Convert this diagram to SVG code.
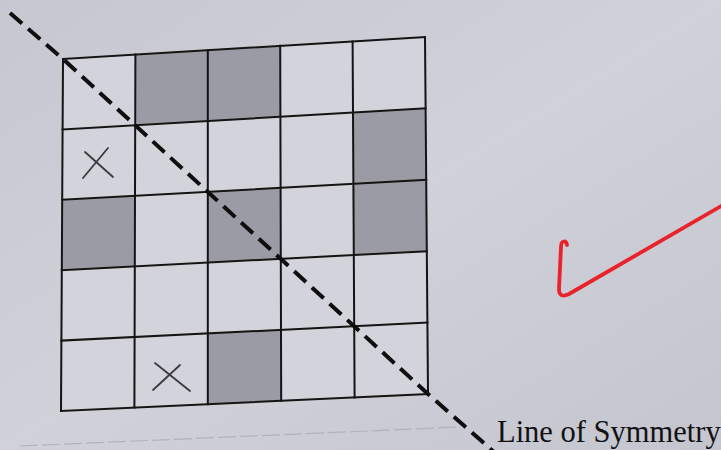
<svg xmlns="http://www.w3.org/2000/svg" width="721" height="450" viewBox="0 0 721 450">
<defs>
<linearGradient id="bg" x1="0" y1="0" x2="1" y2="1">
<stop offset="0" stop-color="#c7c7d1"/>
<stop offset="0.5" stop-color="#d1d1da"/>
<stop offset="1" stop-color="#c5c5cf"/>
</linearGradient>
<style>
.cell{fill:#d3d3dc}
.shade{fill:#9b9ba5}
.grid line{stroke:#141414;stroke-width:2;stroke-linecap:square}
.mark{stroke:#3a3a3e;stroke-width:1.8;fill:none;stroke-linecap:round}
.sym{stroke:#0e0e0e;stroke-width:4;fill:none;stroke-dasharray:16 8}
.lbl{font-family:"Liberation Serif","Times New Roman",serif;font-size:30.5px;fill:#111}
</style>
</defs>
<rect width="721" height="450" fill="url(#bg)"/>
<line x1="20" y1="446" x2="460" y2="427" stroke="#b2b2ba" stroke-width="1.2" stroke-dasharray="18 4"/>
<g id="grid" class="grid">
<polygon class="cell" points="63,59 425,37 428,394 61,411"/>
<g id="shaded">
<polygon class="shade" points="135.4,54.6 207.8,50.2 207.8,121 135.2,125.2"/>
<polygon class="shade" points="207.8,50.2 280.2,45.8 280.4,116.8 207.8,121"/>
<polygon class="shade" points="353,112.6 425.6,108.4 426.2,179.8 353.4,183.8"/>
<polygon class="shade" points="62.2,199.8 135,195.8 134.8,266.4 61.8,270.2"/>
<polygon class="shade" points="207.8,191.8 280.6,187.8 280.8,258.8 207.8,262.6"/>
<polygon class="shade" points="353.4,183.8 426.2,179.8 426.8,251.2 353.8,255"/>
<polygon class="shade" points="207.8,333.4 281,329.8 281.2,400.8 207.8,404.2"/>
</g>
<line x1="63" y1="59" x2="425" y2="37"/>
<line x1="62.6" y1="129.4" x2="425.6" y2="108.4"/>
<line x1="62.2" y1="199.8" x2="426.2" y2="179.8"/>
<line x1="61.8" y1="270.2" x2="426.8" y2="251.2"/>
<line x1="61.4" y1="340.6" x2="427.4" y2="322.6"/>
<line x1="61" y1="411" x2="428" y2="394"/>
<line x1="63" y1="59" x2="61" y2="411"/>
<line x1="135.4" y1="54.6" x2="134.4" y2="407.6"/>
<line x1="207.8" y1="50.2" x2="207.8" y2="404.2"/>
<line x1="280.2" y1="45.8" x2="281.2" y2="400.8"/>
<line x1="352.6" y1="41.4" x2="354.6" y2="397.4"/>
<line x1="425" y1="37" x2="428" y2="394"/>
</g>
<g id="x1" class="mark">
<line x1="83" y1="178" x2="108" y2="148"/>
<line x1="85" y1="152" x2="113" y2="177"/>
</g>
<g id="x2" class="mark">
<line x1="153" y1="390" x2="180" y2="365"/>
<line x1="155" y1="363" x2="190" y2="391"/>
</g>
<g id="connectors">
<polyline class="sym" points="10,13 63,59 428,394 494,452"/>
</g>
<g id="label">
<text class="lbl" x="497" y="442">Line of Symmetry</text>
</g>
<g id="check">
<path d="M567,245 C566,240 561,240 561,247 L559,289 C559,296 563,297 569,294 L723,205" fill="none" stroke="#e8232b" stroke-width="3.8" stroke-linecap="round" stroke-linejoin="round"/>
</g>
</svg>
